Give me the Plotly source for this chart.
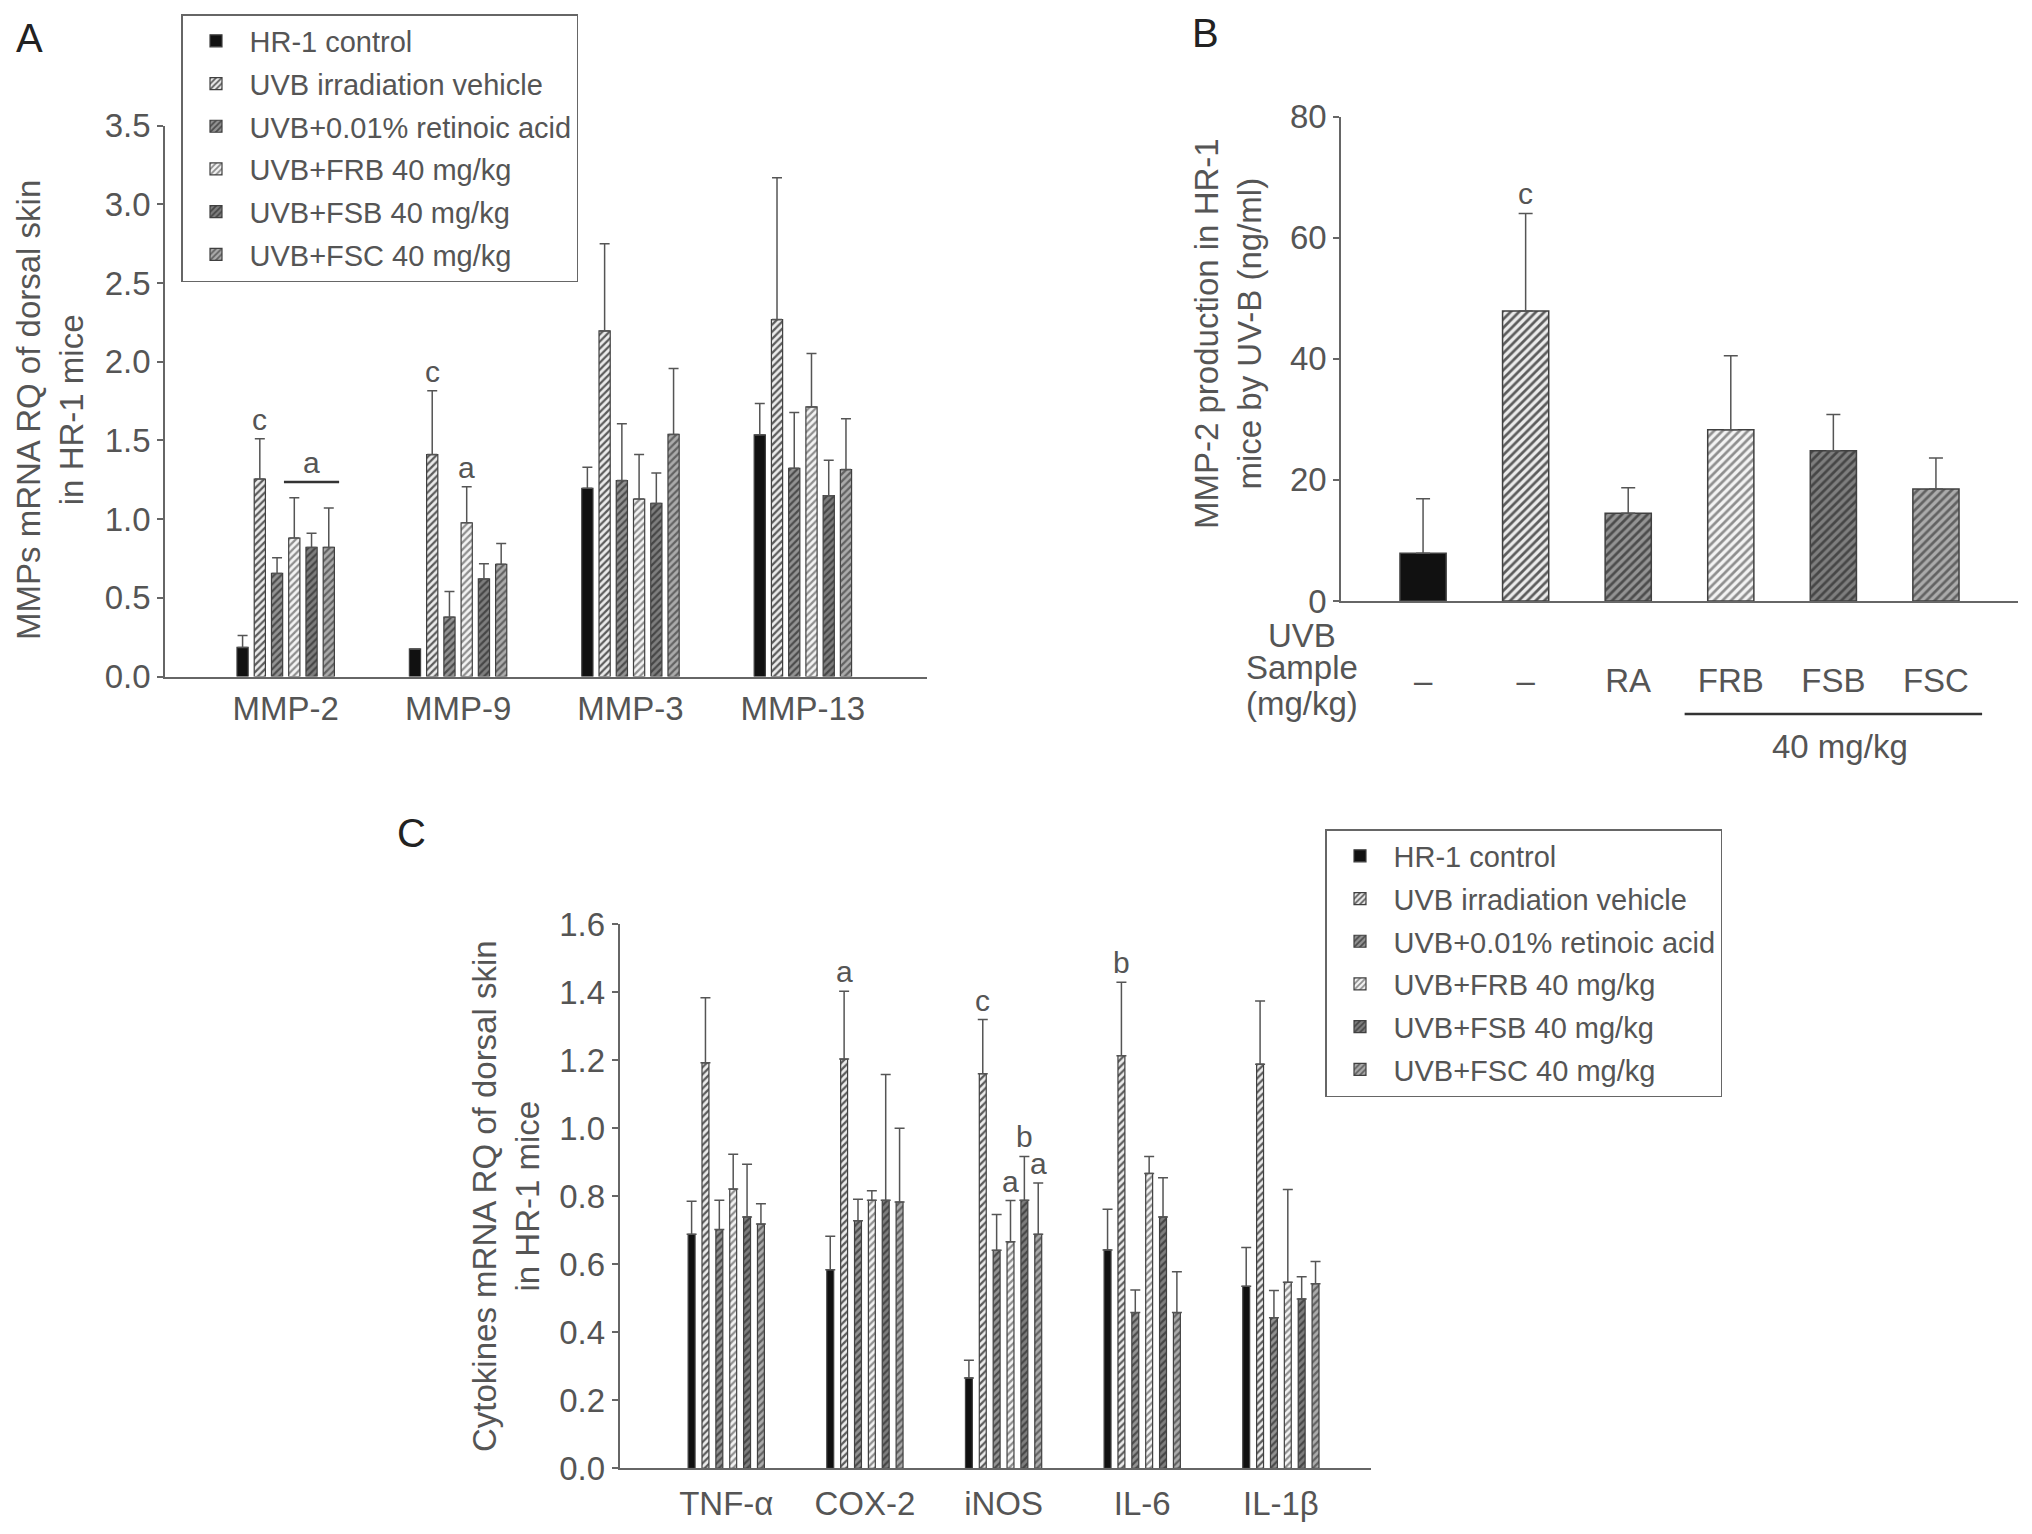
import plotly.graph_objects as go

# 组别 / 图例名称
group_names = ["HR-1 control", "UVB irradiation vehicle", "UVB+0.01% retinoic acid",
               "UVB+FRB 40 mg/kg", "UVB+FSB 40 mg/kg", "UVB+FSC 40 mg/kg"]

# 各组填充样式 (底色, 斜线颜色, 图案)
bar_bg = ["#111111", "#ebebeb", "#939393", "#f3f3f3", "#7e7e7e", "#ababab"]
bar_fg = ["#111111", "#5c5c5c", "#4c4c4c", "#8e8e8e", "#464646", "#626262"]
bar_shape = ["", "/", "/", "/", "/", "/"]

# A: MMPs mRNA
mmp_genes = ["MMP-2", "MMP-9", "MMP-3", "MMP-13"]
mmp_control = [0.185, 0.175, 1.196, 1.536]
mmp_control_sd = [0.075, 0.0, 0.134, 0.198]
mmp_uvb = [1.255, 1.41, 2.196, 2.268]
mmp_uvb_sd = [0.255, 0.405, 0.554, 0.902]
mmp_ra = [0.655, 0.377, 1.245, 1.323]
mmp_ra_sd = [0.10, 0.163, 0.361, 0.354]
mmp_frb = [0.88, 0.977, 1.128, 1.713]
mmp_frb_sd = [0.256, 0.229, 0.282, 0.34]
mmp_fsb = [0.82, 0.62, 1.10, 1.149]
mmp_fsb_sd = [0.09, 0.097, 0.193, 0.225]
mmp_fsc = [0.82, 0.713, 1.538, 1.315]
mmp_fsc_sd = [0.25, 0.132, 0.419, 0.323]

# B: MMP-2 production (ng/ml)
b_ticks = ["–", "–", "RA", "FRB", "FSB", "FSC"]
b_mean = [7.9, 47.9, 14.5, 28.3, 24.8, 18.5]
b_sd = [9.0, 16.1, 4.2, 12.2, 6.0, 5.1]

# C: Cytokines mRNA
cyto_genes = ["TNF-α", "COX-2", "iNOS", "IL-6", "IL-1β"]
cyto_control = [0.688, 0.584, 0.266, 0.642, 0.535]
cyto_control_sd = [0.097, 0.098, 0.052, 0.12, 0.114]
cyto_uvb = [1.192, 1.203, 1.16, 1.213, 1.188]
cyto_uvb_sd = [0.191, 0.199, 0.159, 0.216, 0.186]
cyto_ra = [0.702, 0.728, 0.641, 0.458, 0.443]
cyto_ra_sd = [0.086, 0.063, 0.105, 0.066, 0.08]
cyto_frb = [0.821, 0.788, 0.666, 0.867, 0.547]
cyto_frb_sd = [0.102, 0.028, 0.121, 0.05, 0.273]
cyto_fsb = [0.739, 0.788, 0.788, 0.739, 0.498]
cyto_fsb_sd = [0.155, 0.37, 0.129, 0.115, 0.065]
cyto_fsc = [0.718, 0.783, 0.688, 0.458, 0.543]
cyto_fsc_sd = [0.06, 0.217, 0.151, 0.12, 0.065]

# 显著性标记 (类别, 组序号, 字母)
mmp_marks = [("MMP-2", 1, "c"), ("MMP-9", 1, "c"), ("MMP-9", 3, "a")]
cyto_marks = [("COX-2", 1, "a"), ("iNOS", 1, "c"), ("iNOS", 3, "a"),
              ("iNOS", 4, "b"), ("iNOS", 5, "a"), ("IL-6", 1, "b")]

FONT = "Liberation Sans, Arial, Helvetica, sans-serif"
TXT = "#555555"
AX = "#666666"

# 页面 body 默认有 8px 边距, 图尺寸相应缩小
W, H, PAD = 2016, 1518, 8


def px(x):
    return (x - PAD) / W


def py(y):
    return 1 - (y - PAD) / H


mmp_series = [(mmp_control, mmp_control_sd), (mmp_uvb, mmp_uvb_sd), (mmp_ra, mmp_ra_sd),
              (mmp_frb, mmp_frb_sd), (mmp_fsb, mmp_fsb_sd), (mmp_fsc, mmp_fsc_sd)]
cyto_series = [(cyto_control, cyto_control_sd), (cyto_uvb, cyto_uvb_sd), (cyto_ra, cyto_ra_sd),
               (cyto_frb, cyto_frb_sd), (cyto_fsb, cyto_fsb_sd), (cyto_fsc, cyto_fsc_sd)]

fig = go.Figure()


def bar_marker(i, size, lw):
    return dict(color=bar_bg[i], line=dict(color="#404040", width=lw),
                pattern=dict(shape=bar_shape[i], bgcolor=bar_bg[i], fgcolor=bar_fg[i],
                             size=size, solidity=0.45, fillmode="replace"))


def add_group_bars(cats, series, xa, ya, legend, bar_w):
    for i, (vals, sds) in enumerate(series):
        fig.add_trace(go.Bar(
            x=cats, y=vals, name=group_names[i], xaxis=xa, yaxis=ya,
            legend=legend, legendgroup=legend + str(i), width=bar_w,
            marker=bar_marker(i, 5, 1.2),
            error_y=dict(type="data", symmetric=False, array=sds,
                         arrayminus=[0] * len(sds), color=TXT, thickness=1.5, width=5),
        ))


add_group_bars(mmp_genes, mmp_series, "x", "y", "legend", 0.065)
add_group_bars(cyto_genes, cyto_series, "x3", "y3", "legend2", 0.05)

# B: 每根柱子单独一个 trace, 共用 offsetgroup 保持居中
for i in range(len(b_mean)):
    fig.add_trace(go.Bar(
        x=[group_names[i]], y=[b_mean[i]], xaxis="x2", yaxis="y2", showlegend=False,
        offsetgroup="b", width=0.45, marker=bar_marker(i, 6, 1.5),
        error_y=dict(type="data", symmetric=False, array=[b_sd[i]], arrayminus=[0],
                     color=TXT, thickness=1.5, width=7),
    ))

annotations = []
shapes = []


def slot(j):
    # 组内第 j 个柱子相对类别中心的偏移
    return -0.25 + 0.1 * j


def text_ann(txt, x, y, size=33, color=TXT, angle=0):
    return dict(x=px(x), y=py(y), xref="paper", yref="paper", text=txt, textangle=angle,
                xanchor="center", yanchor="middle", showarrow=False,
                font=dict(size=size, color=color, family=FONT))


for cats, series, marks, xr, yr in [(mmp_genes, mmp_series, mmp_marks, "x", "y"),
                                     (cyto_genes, cyto_series, cyto_marks, "x3", "y3")]:
    for cat, j, letter in marks:
        k = cats.index(cat)
        vals, sds = series[j]
        annotations.append(dict(x=k + slot(j), y=vals[k] + sds[k], xref=xr, yref=yr,
                                text=letter, showarrow=False, xanchor="center",
                                yanchor="bottom", yshift=1,
                                font=dict(size=30, color=TXT, family=FONT)))

# MMP-2 中 FRB~FSC 的横线 + a
sig_y = 1.236
shapes.append(dict(type="line", xref="x", yref="y", x0=slot(3) - 0.06, x1=slot(5) + 0.06,
                   y0=sig_y, y1=sig_y, line=dict(color="#333333", width=2.5)))
annotations.append(dict(x=(slot(3) + slot(5)) / 2, y=sig_y, xref="x", yref="y", text="a",
                        showarrow=False, xanchor="center", yanchor="bottom", yshift=1,
                        font=dict(size=30, color=TXT, family=FONT)))

# B 中 UVB 的 c
annotations.append(dict(x=1, y=b_mean[1] + b_sd[1], xref="x2", yref="y2", text="c",
                        showarrow=False, xanchor="center", yanchor="bottom", yshift=1,
                        font=dict(size=30, color=TXT, family=FONT)))

# B 的行标签 / 40 mg/kg
for txt, yy in [("UVB", 635), ("Sample", 668), ("(mg/kg)", 703)]:
    annotations.append(text_ann(txt, 1302, yy))
shapes.append(dict(type="line", xref="x2", yref="paper", x0=2.55, x1=5.45,
                   y0=py(714), y1=py(714), line=dict(color="#333333", width=2.5)))
annotations.append(text_ann("40 mg/kg", 1840, 746))

# 纵轴标题
annotations.append(text_ann("MMPs mRNA RQ of dorsal skin<br>in HR-1 mice", 50, 410, angle=-90))
annotations.append(text_ann("MMP-2 production in HR-1<br>mice by UV-B (ng/ml)", 1228, 334, angle=-90))
annotations.append(text_ann("Cytokines mRNA RQ of dorsal skin<br>in HR-1 mice", 506, 1196, angle=-90))

# 面板字母
annotations.append(text_ann("A", 29, 38, size=40, color="#222222"))
annotations.append(text_ann("B", 1205, 33, size=40, color="#222222"))
annotations.append(text_ann("C", 411, 833, size=40, color="#222222"))

xcommon = dict(type="category", showline=True, linecolor=AX, linewidth=1.5, ticks="",
               showgrid=False, zeroline=False, automargin=False,
               tickfont=dict(size=33, color=TXT, family=FONT))
ycommon = dict(showline=True, linecolor=AX, linewidth=1.5, ticks="outside", ticklen=6,
               tickcolor=AX, tickwidth=1.5, showgrid=False, zeroline=False, automargin=False,
               tickfont=dict(size=33, color=TXT, family=FONT))

legend_common = dict(xanchor="left", yanchor="top", bordercolor=AX, borderwidth=1.5,
                     bgcolor="white", font=dict(size=29, color=TXT, family=FONT),
                     tracegroupgap=2, traceorder="grouped", itemwidth=57)

fig.update_layout(
    width=W, height=H, autosize=False,
    margin=dict(l=0, r=0, t=0, b=0, autoexpand=False),
    paper_bgcolor="white", plot_bgcolor="white",
    barmode="group", bargap=0.4, bargroupgap=0,
    font=dict(family=FONT, color=TXT),
    xaxis=dict(xcommon, domain=[px(165), px(927)], anchor="y", range=[-0.70, 3.72],
               categoryorder="array", categoryarray=mmp_genes, ticklabelstandoff=2),
    yaxis=dict(ycommon, domain=[py(676.5), py(125.7)], anchor="x", range=[0, 3.5],
               dtick=0.5, tickformat=".1f"),
    xaxis2=dict(xcommon, domain=[px(1341), px(2018)], anchor="y2", range=[-0.8, 5.8],
                categoryorder="array", categoryarray=group_names,
                tickmode="array", tickvals=group_names, ticktext=b_ticks,
                ticklabelstandoff=50),
    yaxis2=dict(ycommon, domain=[py(601), py(116.6)], anchor="x2", range=[0, 80], dtick=20),
    xaxis3=dict(xcommon, domain=[px(619.5), px(1371)], anchor="y3", range=[-0.77, 4.65],
                categoryorder="array", categoryarray=cyto_genes, ticklabelstandoff=5),
    yaxis3=dict(ycommon, domain=[py(1468.4), py(924)], anchor="x3", range=[0, 1.6],
                dtick=0.2, tickformat=".1f"),
    legend=dict(legend_common, x=px(181), y=py(14)),
    legend2=dict(legend_common, x=px(1325), y=py(829)),
    annotations=annotations,
    shapes=shapes,
)

fig.write_html("out.html")
